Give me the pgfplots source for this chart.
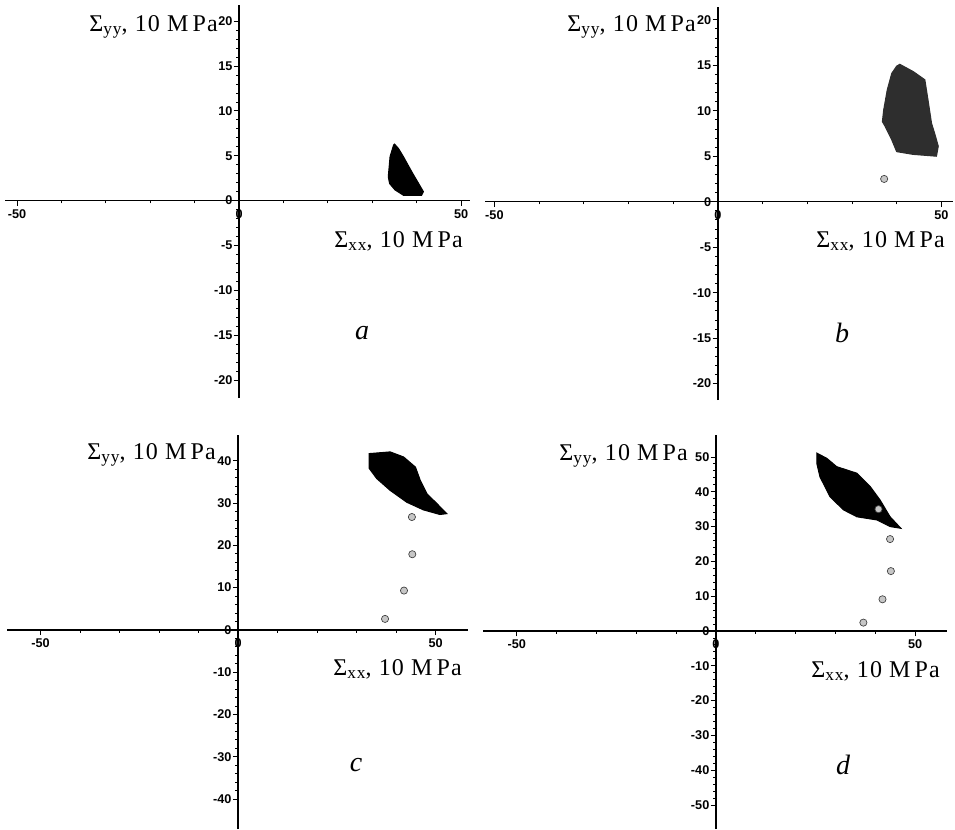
\documentclass[border=0pt]{standalone}
\usepackage{pgfplots}
\pgfplotsset{compat=1.18}
\usepackage{fontspec}
\setmainfont{Liberation Serif}
\setsansfont{Liberation Sans}
\newfontfamily\labfont[LetterSpace=5]{Liberation Serif}
\newcommand{\sub}[1]{\raisebox{-0.35ex}{\fontsize{13}{14}\selectfont #1}}
\newcommand{\ylab}{{\labfont\fontsize{18}{20}\selectfont \char"03A3\sub{yy}, 10 M\,Pa}}
\newcommand{\xlab}{{\labfont\fontsize{18}{20}\selectfont \char"03A3\sub{xx}, 10 M\,Pa}}
\newcommand{\plab}[1]{{\fontsize{21}{23}\selectfont\itshape #1}}
\begin{document}
\begin{tikzpicture}
\useasboundingbox (0,0) rectangle (716.25pt,-621.75pt);
\pgfplotsset{panel/.style={axis lines=middle, scale only axis, anchor=south west,
  axis line style={-, line width=1.2pt}, tick style={black, line width=0.6pt},
  major tick length=4pt, minor tick length=2pt, tick align=outside,
  hide obscured x ticks=false, hide obscured y ticks=false,
  xtick={-50,0,50}, minor x tick num=4,
  ticklabel style={font=\sffamily\bfseries\fontsize{9.5}{11}\selectfont},
  /pgf/number format/assume math mode=true, clip=false,
  xticklabel style={anchor=north, yshift=1pt},
  yticklabel style={anchor=east, xshift=2.5pt}},
  cloud/.style={fill=black, draw=black, line width=0.8pt},
  grey/.style={only marks, mark=*, mark size=2.7pt, mark options={fill=gray!45, draw=black!75, line width=0.5pt}}}

% panel a
\begin{axis}[panel, at={(3.75pt,-298.5pt)}, width=348.75pt, height=294.75pt,
  xmin=-52.7, xmax=52.0, ymin=-22.0, ymax=21.8,
  ytick={-20,-15,-10,-5,0,5,10,15,20}, minor y tick num=4]
\addplot[cloud] coordinates {(35.0,6.3) (35.9,5.8) (37.0,4.9) (38.9,3.2) (41.5,1.0) (41.1,0.6) (37.0,0.6) (35.1,1.2) (33.9,1.9) (33.6,2.65) (34.0,4.9) (34.8,6.2)} -- cycle;
\end{axis}

% panel b
\begin{axis}[panel, at={(363.75pt,-300pt)}, width=351pt, height=294.75pt,
  xmin=-52.1, xmax=52.6, ymin=-21.8, ymax=21.4,
  ytick={-20,-15,-10,-5,0,5,10,15,20}, minor y tick num=4]
\addplot[cloud, fill=black!82, draw=black!82] coordinates {(40.7,15.1) (43.7,14.3) (46.3,13.4) (47.0,11.2) (47.8,8.6) (48.5,7.5) (49.3,6.1) (48.9,5.0) (43.7,5.2) (40.0,5.5) (38.9,6.8) (37.4,8.3) (36.8,8.8) (37.1,10.1) (37.9,12.3) (38.9,14.1) (40.0,14.9)} -- cycle;
\addplot[grey] coordinates {(37.2,2.5)};
\end{axis}

% panel c
\begin{axis}[panel, at={(5.25pt,-621.75pt)}, width=345.75pt, height=295.5pt,
  xmin=-58.5, xmax=58.2, ymin=-47.1, ymax=46.1,
  ytick={-40,-30,-20,-10,0,10,20,30,40}, minor y tick num=4]
\addplot[cloud] coordinates {(33.2,41.7) (38.5,42.1) (41.9,40.9) (44.9,38.5) (46.1,35.4) (47.8,32.2) (50.3,29.9) (52.8,27.5) (51.1,27.3) (46.9,28.4) (42.7,30.2) (38.5,33.0) (35.1,35.8) (33.2,38.2) (33.2,41.0)} -- cycle;
\addplot[grey] coordinates {(44.0,26.7) (44.1,17.9) (42.0,9.3) (37.2,2.6)};
\end{axis}

% panel d
\begin{axis}[panel, at={(362.25pt,-621.75pt)}, width=348pt, height=295.5pt,
  xmin=-58.5, xmax=58.0, ymin=-56.9, ymax=56.3,
  ytick={-50,-40,-30,-20,-10,0,10,20,30,40,50}, minor y tick num=4]
\addplot[cloud] coordinates {(25.3,51.1) (27.8,49.6) (30.3,47.2) (35.4,45.3) (38.7,41.5) (41.2,37.6) (43.7,32.8) (46.4,29.5) (43.7,30.0) (40.4,31.9) (35.4,32.8) (32.0,34.8) (28.6,38.6) (26.1,44.3) (25.3,48.2)} -- cycle;
\addplot[grey] coordinates {(40.8,35.0) (43.7,26.4) (43.9,17.2) (41.8,9.1) (37.0,2.4)};
\end{axis}

% labels
\node[anchor=base east, inner sep=0pt] at (163.5pt,-23.25pt) {\ylab};
\node[anchor=base east, inner sep=0pt] at (347.25pt,-185.25pt) {\xlab};
\node[anchor=base east, inner sep=0pt] at (522pt,-23.25pt) {\ylab};
\node[anchor=base east, inner sep=0pt] at (708.75pt,-185.25pt) {\xlab};
\node[anchor=base east, inner sep=0pt] at (162pt,-344.25pt) {\ylab};
\node[anchor=base east, inner sep=0pt] at (346.5pt,-506.25pt) {\xlab};
\node[anchor=base east, inner sep=0pt] at (516pt,-345pt) {\ylab};
\node[anchor=base east, inner sep=0pt] at (705pt,-507.75pt) {\xlab};
\node at (271.5pt,-249.75pt) {\plab{a}};
\node at (631.5pt,-249.75pt) {\plab{b}};
\node at (267pt,-573.75pt) {\plab{c}};
\node at (632.25pt,-573.75pt) {\plab{d}};
\end{tikzpicture}
\end{document}
